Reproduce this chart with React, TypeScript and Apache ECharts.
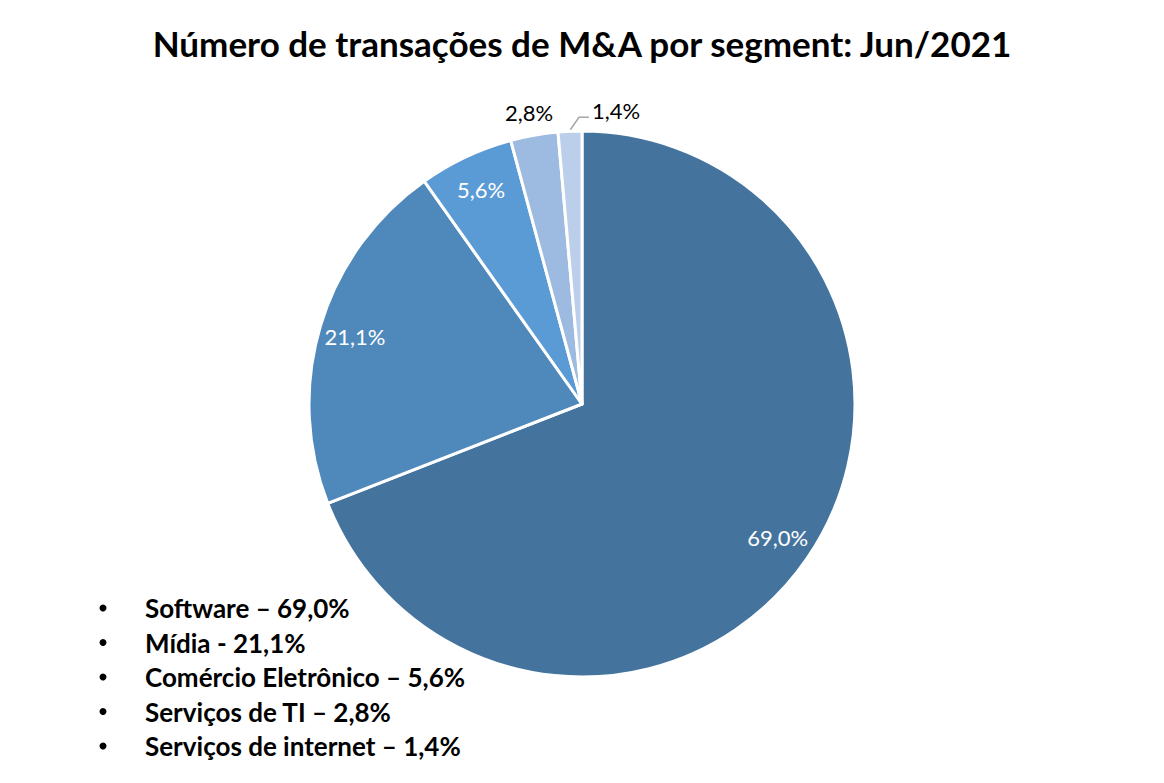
import React, { useEffect, useRef } from "react";
import * as echarts from "echarts";

const TITLE = "Número de transações de M&A por segment: Jun/2021";
const categories = ["Software", "Mídia", "Comércio Eletrônico", "Serviços de TI", "Serviços de internet"];
const shares = [69.0, 21.1, 5.6, 2.8, 1.4];
const sliceColors = ["#44749E", "#4F89BC", "#5B9BD5", "#9DBAE0", "#BCCFEA"];
const legendLines = [
  "Software – 69,0%",
  "Mídia - 21,1%",
  "Comércio Eletrônico – 5,6%",
  "Serviços de TI – 2,8%",
  "Serviços de internet – 1,4%",
];
const insideLabelIdx = [0, 1, 2];
const outsideLabelIdx = [3, 4];

const FONT = "Lato, 'Open Sans', sans-serif";
const fmt = (v: number) => v.toFixed(1).replace(".", ",") + "%";

export default function App() {
  const ref = useRef<HTMLDivElement>(null);
  useEffect(() => {
    if (!ref.current) return;
    const chart = echarts.init(ref.current, undefined, { renderer: "svg" });
    const cx = 582;
    const cy = 404;
    const R = 273;
    const total = shares.reduce((a, b) => a + b, 0);
    let cum = 0;
    const edge = shares.map((v) => {
      const mid = ((cum + v / 2) / total) * Math.PI * 2;
      cum += v;
      return [cx + R * Math.sin(mid), cy - R * Math.cos(mid)];
    });

    const mainData = categories.map((name, i) => ({
      name,
      value: shares[i],
      itemStyle: { color: sliceColors[i] },
      label: { show: outsideLabelIdx.includes(i) },
      labelLine: { show: i === 4 },
    }));
    const overlayData = categories.map((name, i) => ({
      name,
      value: shares[i],
      label: { show: insideLabelIdx.includes(i) },
    }));

    chart.setOption({
      animation: false,
      backgroundColor: "#fff",
      title: {
        text: TITLE,
        left: "center",
        top: 20,
        textStyle: { fontFamily: FONT, fontWeight: "bold", fontSize: 35, color: "#000" },
      },
      series: [
        {
          type: "pie",
          center: [cx, cy],
          radius: [0, R],
          startAngle: 90,
          clockwise: true,
          silent: true,
          itemStyle: { borderColor: "#fff", borderWidth: 3 },
          label: {
            position: "outside",
            formatter: (p: any) => fmt(p.value),
            fontFamily: FONT,
            fontSize: 22,
            color: "#000",
          },
          labelLine: { lineStyle: { color: "#A6A6A6", width: 1.5 }, length: 10, length2: 10 },
          labelLayout: (p: any) => {
            const i = p.dataIndex;
            const [ex, ey] = edge[i];
            if (i === 3) {
              return { x: ex - 5, y: ey - 23, align: "center", verticalAlign: "middle" };
            }
            if (i === 4) {
              return {
                x: ex + 22,
                y: ey - 21,
                align: "left",
                verticalAlign: "middle",
                labelLinePoints: [
                  [ex, ey - 1],
                  [ex + 9, ey - 14],
                  [ex + 19, ey - 14],
                ],
              };
            }
            return {};
          },
          data: mainData,
        },
        {
          type: "pie",
          center: [cx, cy],
          radius: [195, R],
          startAngle: 90,
          clockwise: true,
          silent: true,
          itemStyle: { color: "rgba(0,0,0,0)", borderWidth: 0 },
          label: {
            position: "inside",
            formatter: (p: any) => fmt(p.value),
            fontFamily: FONT,
            fontSize: 22,
            color: "#fff",
          },
          labelLine: { show: false },
          data: overlayData,
        },
      ],
      graphic: legendLines.flatMap((t, i) => [
        {
          type: "circle",
          shape: { cx: 103, cy: 608 + i * 34.5, r: 3.5 },
          style: { fill: "#000" },
        },
        {
          type: "text",
          x: 145,
          y: 608 + i * 34.5,
          style: {
            text: t,
            fontFamily: FONT,
            fontWeight: "bold",
            fontSize: 26,
            fill: "#000",
            verticalAlign: "middle",
          },
        },
      ]),
    });
    return () => chart.dispose();
  }, []);
  return (
    <div
      ref={ref}
      style={{ position: "fixed", left: 0, top: 0, width: 1164, height: 783 }}
    />
  );
}
